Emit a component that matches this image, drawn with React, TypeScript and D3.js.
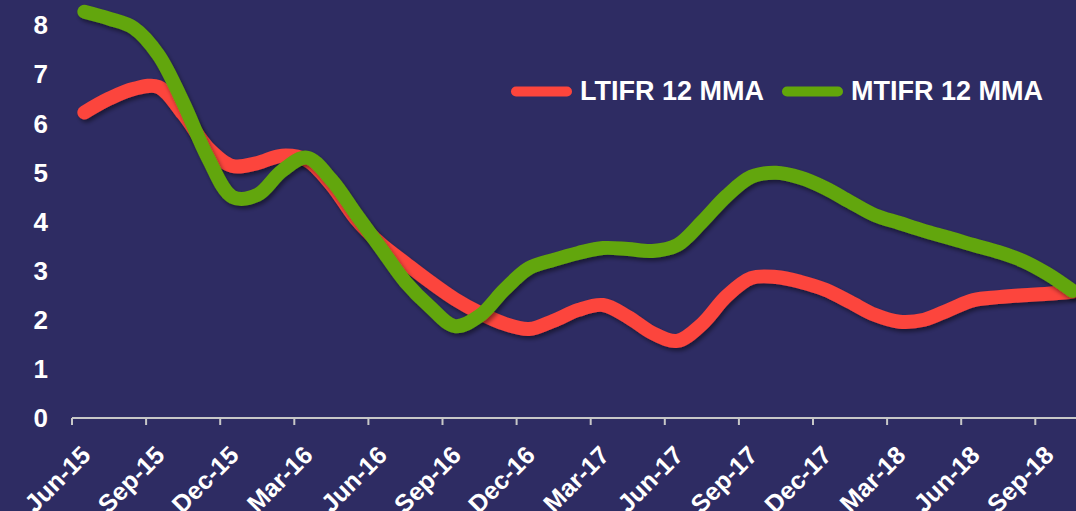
import React from "react";
import * as d3 from "d3";

const months: string[] = (() => {
  const names = ["Jan","Feb","Mar","Apr","May","Jun","Jul","Aug","Sep","Oct","Nov","Dec"];
  const out: string[] = [];
  let m = 5, y = 15;
  for (let i = 0; i < 41; i++) {
    out.push(`${names[m]}-${y}`);
    m++;
    if (m === 12) { m = 0; y++; }
  }
  return out;
})();

const ltifr: number[] = [
  6.22, 6.50, 6.70, 6.74, 6.19, 5.50, 5.13, 5.19, 5.34, 5.25,
  4.75, 4.05, 3.54, 3.15, 2.77, 2.42, 2.14, 1.92, 1.81, 1.98,
  2.20, 2.30, 2.06, 1.73, 1.57, 1.91, 2.48, 2.85, 2.87, 2.77,
  2.61, 2.36, 2.10, 1.96, 2.00, 2.20, 2.40, 2.46, 2.50, 2.53,
  2.57,
];

const mtifr: number[] = [
  8.27, 8.13, 7.94, 7.39, 6.42, 5.30, 4.50, 4.54, 5.03, 5.30,
  4.85, 4.15, 3.46, 2.77, 2.26, 1.87, 2.08, 2.61, 3.05, 3.22,
  3.36, 3.46, 3.44, 3.40, 3.52, 3.99, 4.52, 4.91, 4.99, 4.89,
  4.68, 4.40, 4.13, 3.97, 3.81, 3.67, 3.52, 3.38, 3.20, 2.93,
  2.59,
];

const yTicks: number[] = [0, 1, 2, 3, 4, 5, 6, 7, 8];
const seriesNames: string[] = ["LTIFR 12 MMA", "MTIFR 12 MMA"];

const W = 1076;
const H = 511;
const BG = "#2e2c63";
const RED = "#fc453c";
const GREEN = "#62a60a";
const FONT = "'Liberation Sans', Arial, sans-serif";

export default function App() {
  const step = 24.7;
  const x0 = 72;
  const x = d3
    .scaleBand<string>()
    .domain(months)
    .range([x0, x0 + step * months.length]);
  const y = d3.scaleLinear().domain([0, 8]).range([418, 25]);

  const cx = (m: string) => (x(m) as number) + x.bandwidth() / 2;

  const line = d3
    .line<number>()
    .x((_, i) => cx(months[i]))
    .y((d) => y(d))
    .curve(d3.curveCatmullRom.alpha(0.5));

  const labelMonths = months.filter((_, i) => i % 3 === 0 && i < 40);

  return (
    <svg
      width={W}
      height={H}
      style={{ position: "absolute", left: 0, top: 0, display: "block" }}
    >
      <defs>
        <filter id="shadow" x="-10%" y="-10%" width="120%" height="130%">
          <feDropShadow dx="2" dy="3" stdDeviation="2" floodColor="#000" floodOpacity="0.45" />
        </filter>
      </defs>
      <rect x={0} y={0} width={W} height={H} fill={BG} />

      {/* y axis labels */}
      {yTicks.map((t) => (
        <text
          key={t}
          x={48}
          y={y(t)}
          dy="0.36em"
          textAnchor="end"
          fill="#fff"
          fontFamily={FONT}
          fontWeight="bold"
          fontSize={26}
        >
          {t}
        </text>
      ))}

      {/* x axis */}
      <line x1={x0} x2={W} y1={y(0)} y2={y(0)} stroke="#c8c8c8" strokeWidth={2} />
      {labelMonths.map((m) => (
        <line
          key={"t" + m}
          x1={x(m) as number}
          x2={x(m) as number}
          y1={y(0)}
          y2={y(0) + 7}
          stroke="#c8c8c8"
          strokeWidth={2}
        />
      ))}
      {labelMonths.map((m) => (
        <text
          key={"l" + m}
          transform={`translate(${cx(m) - 5},${444}) rotate(-45)`}
          dy="0.72em"
          textAnchor="end"
          fill="#fff"
          fontFamily={FONT}
          fontWeight="bold"
          fontSize={25}
        >
          {m}
        </text>
      ))}

      {/* lines */}
      <path
        d={line(ltifr) || ""}
        fill="none"
        stroke={RED}
        strokeWidth={14}
        strokeLinecap="round"
        strokeLinejoin="round"
        filter="url(#shadow)"
      />
      <path
        d={line(mtifr) || ""}
        fill="none"
        stroke={GREEN}
        strokeWidth={14}
        strokeLinecap="round"
        strokeLinejoin="round"
        filter="url(#shadow)"
      />

      {/* legend */}
      <line x1={516} x2={567} y1={91.5} y2={91.5} stroke={RED} strokeWidth={10} strokeLinecap="round" />
      <text x={580} y={100} fill="#fff" fontFamily={FONT} fontWeight="bold" fontSize={27}>
        {seriesNames[0]}
      </text>
      <line x1={787} x2={838} y1={91.5} y2={91.5} stroke={GREEN} strokeWidth={10} strokeLinecap="round" />
      <text x={851} y={100} fill="#fff" fontFamily={FONT} fontWeight="bold" fontSize={27}>
        {seriesNames[1]}
      </text>
    </svg>
  );
}
